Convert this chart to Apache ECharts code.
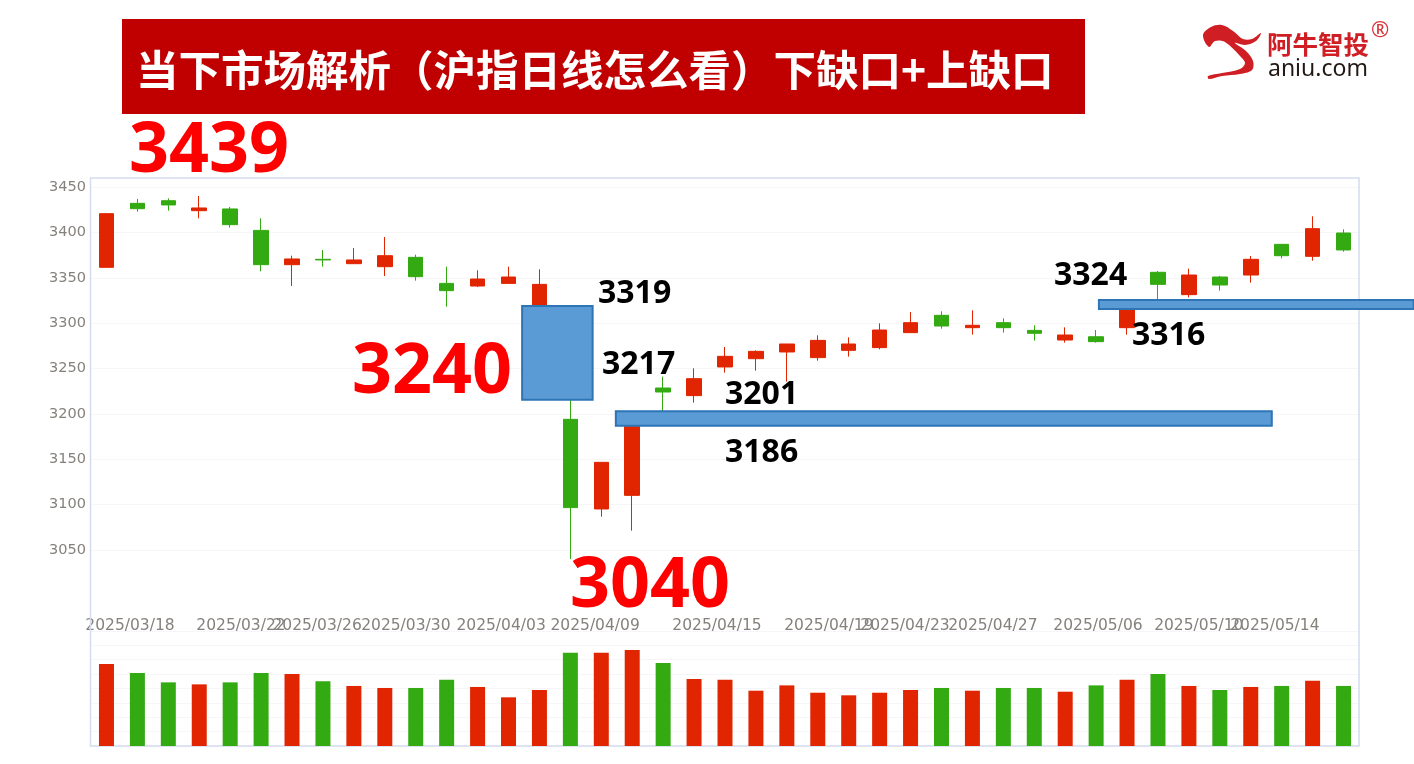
<!DOCTYPE html>
<html lang="zh-CN">

<head>
  <meta charset="UTF-8">
  <title>当下市场解析（沪指日线怎么看）</title>
  <script src="https://cdn.jsdelivr.net/npm/echarts@6/dist/echarts.min.js"></script>
  <style>
    * {
      margin: 0;
      padding: 0;
    }

    body {
      background-color: #fff;
    }

    #main {
      width: 1414px;
      height: 764px;
    }
  </style>
</head>

<body>
  <div id="main"></div>
  <script>
    // 交易日
    const dates = ['03/14', '03/17', '03/18', '03/19', '03/20', '03/21', '03/24', '03/25', '03/26', '03/27', '03/28',
      '03/31', '04/01', '04/02', '04/03', '04/07', '04/08', '04/09', '04/10', '04/11', '04/14', '04/15', '04/16', '04/17',
      '04/18', '04/21', '04/22', '04/23', '04/24', '04/25', '04/28', '04/29', '04/30', '05/06', '05/07', '05/08', '05/09',
      '05/12', '05/13', '05/14', '05/15'];

    // K线数据
    const opens = [3361.5, 3432, 3434.9, 3423.9, 3425.8, 3402.2, 3364.4, 3370.3, 3365.5, 3362.2, 3372.5,
      3343.8, 3340.9, 3343.8, 3319, 3194, 3095.2, 3110.2, 3228.5, 3220.1, 3251.7, 3260.8, 3268.2, 3262,
      3270, 3273, 3289.5, 3308.6, 3295, 3300.5, 3292, 3281.4, 3285, 3295, 3356, 3331.4, 3350.8,
      3353, 3386.8, 3373.6, 3399.3];
    const closes = [3420.6, 3426.1, 3430.2, 3426.9, 3408.5, 3364.4, 3370.7, 3369.6, 3369.6, 3374.3, 3351.2,
      3335.8, 3348.6, 3350.8, 3342.7, 3096.7, 3146.6, 3186, 3224.1, 3238.8, 3263.4, 3268.9, 3277, 3281,
      3277, 3292.4, 3300.5, 3296.8, 3297.6, 3295, 3288.8, 3286.9, 3279.6, 3316, 3342.7, 3353, 3342,
      3370.3, 3374.3, 3404.1, 3380.6];
    const lows = [3361.5, 3422.8, 3423.9, 3415.5, 3405.2, 3357.1, 3340.9, 3362.2, 3365.5, 3351.9, 3346.8,
      3318.1, 3339.8, 3343.8, 3319, 3040, 3086.7, 3071.3, 3201, 3212.4, 3245.4, 3247.6, 3235.5, 3258.6,
      3263.1, 3271.1, 3289.5, 3293.9, 3287.3, 3289.5, 3280.7, 3278.5, 3278.5, 3287.3, 3324, 3328.4, 3335.8,
      3344.6, 3371.4, 3368.8, 3378.7];
    const highs = [3421.3, 3436.8, 3437.5, 3440.1, 3428, 3415.5, 3374.3, 3380.6, 3382.8, 3394.9, 3375.4,
      3362.2, 3358.2, 3362.2, 3359.3, 3217, 3146.6, 3186, 3241, 3250.2, 3273.7, 3270, 3277, 3286.6,
      3284.3, 3299.8, 3312.3, 3313, 3314.1, 3305.3, 3297.6, 3295.4, 3292.4, 3316, 3357.4, 3360, 3351.9,
      3374, 3386.8, 3417.7, 3403.4];
    // 成交量（单位：格）
    const volumes = [5.69, 5.07, 4.42, 4.28, 4.42, 5.07, 5.0, 4.49, 4.17, 4.03, 4.03,
      4.6, 4.1, 3.38, 3.89, 6.48, 6.48, 6.67, 5.76, 4.65, 4.6, 3.84, 4.21, 3.7,
      3.52, 3.7, 3.89, 4.03, 3.84, 4.03, 4.03, 3.77, 4.21, 4.6, 5.0, 4.17,
      3.89, 4.1, 4.17, 4.53, 4.17];

    // 横轴日期标签及其所在位置（以K线格为单位）
    const tickLabels = ['2025/03/18', '2025/03/22', '2025/03/26', '2025/03/30', '2025/04/03', '2025/04/09', '2025/04/15',
      '2025/04/19', '2025/04/23', '2025/04/27', '2025/05/06', '2025/05/10', '2025/05/14'];
    const tickSlots = [1.26, 4.85, 7.31, 10.18, 13.26, 16.3, 20.24, 23.86, 26.32, 29.16, 32.56, 35.82, 38.28];

    // 缺口：起止位置（K线格）、上沿、下沿
    const gapStarts = [13.94, 16.97, 32.59];
    const gapEnds = [16.22, 38.18, 42.77];
    const gapTops = [3318.9, 3202.8, 3325.5];
    const gapBottoms = [3215.6, 3187, 3315.6];

    const chart = echarts.init(document.getElementById('main'), null, { renderer: 'canvas' });

    const UP = '#e12500';
    const DOWN = '#33aa11';
    const LABEL = '#85817d';

    function bigText(text, x, y) {
      return {
        type: 'text', x: x, y: y, z: 100,
        style: {
          text: text, fill: '#ff0000', font: 'bold 70px "Noto Sans"', textVerticalAlign: 'middle',
          shadowColor: 'rgba(0,0,0,0.35)', shadowBlur: 4, shadowOffsetX: 2, shadowOffsetY: 2
        }
      };
    }

    function smallText(text, x, y) {
      return {
        type: 'text', x: x, y: y, z: 100,
        style: {
          text: text, fill: '#000', font: 'bold 32px "Noto Sans"', textVerticalAlign: 'middle',
          shadowColor: 'rgba(0,0,0,0.3)', shadowBlur: 2, shadowOffsetX: 1, shadowOffsetY: 1
        }
      };
    }

    const option = {
      animation: false,
      backgroundColor: '#fff',
      grid: [
        { left: 91, width: 1268, top: 187, height: 363 },
        { left: 91, width: 1268, top: 630.8, height: 115.2 }
      ],
      xAxis: [
        { type: 'category', gridIndex: 0, data: dates, show: false },
        { type: 'category', gridIndex: 1, data: dates, show: false },
        // 缺口矩形用的连续坐标
        { type: 'value', gridIndex: 0, min: 0, max: 41, show: false },
        // 日期标签，末尾多一个空标签，免得05/10和05/14重叠时被隐藏
        {
          type: 'value', gridIndex: 1, min: 0, max: 41, position: 'top', offset: -3,
          axisLine: { show: false },
          axisTick: { show: false },
          splitLine: { show: false },
          axisLabel: {
            customValues: tickSlots.concat([41]),
            margin: 0,
            color: LABEL,
            fontFamily: 'DejaVu Sans',
            fontSize: 15.5,
            formatter: function (v) {
              return tickLabels[tickSlots.indexOf(v)] || '';
            }
          }
        }
      ],
      yAxis: [
        {
          type: 'value', gridIndex: 0, min: 3050, max: 3450, interval: 50,
          axisLine: { show: false },
          axisTick: { show: false },
          axisLabel: {
            color: LABEL,
            fontFamily: 'DejaVu Sans',
            fontSize: 14.5,
            margin: 5,
            formatter: function (v) {
              return String(v);
            }
          },
          splitLine: { lineStyle: { color: '#f6f6f6' } }
        },
        {
          type: 'value', gridIndex: 1, min: 0, max: 8, interval: 1,
          axisLine: { show: false },
          axisTick: { show: false },
          axisLabel: { show: false },
          splitLine: { lineStyle: { color: '#f6f6fa' } }
        }
      ],
      title: {
        text: '当下市场解析（沪指日线怎么看）下缺口+上缺口',
        left: 136,
        top: 49,
        padding: 0,
        textStyle: { color: '#fff', fontFamily: 'Noto Sans CJK SC', fontWeight: 'bold', fontSize: 42.5 }
      },
      series: [
        {
          type: 'candlestick',
          xAxisIndex: 0,
          yAxisIndex: 0,
          clip: false,
          barWidth: 15,
          itemStyle: { color: UP, color0: DOWN, borderColor: UP, borderColor0: DOWN, borderWidth: 1 },
          data: opens.map(function (o, i) {
            return [o, closes[i], lows[i], highs[i]];
          })
        },
        {
          type: 'bar',
          xAxisIndex: 1,
          yAxisIndex: 1,
          barWidth: 15,
          data: volumes.map(function (v, i) {
            return { value: v, itemStyle: { color: closes[i] >= opens[i] ? UP : DOWN } };
          })
        },
        {
          type: 'custom',
          xAxisIndex: 2,
          yAxisIndex: 0,
          z: 5,
          clip: false,
          data: gapStarts.map(function (s, i) {
            return [s, gapEnds[i], gapTops[i], gapBottoms[i]];
          }),
          renderItem: function (params, api) {
            const p0 = api.coord([api.value(0), api.value(2)]);
            const p1 = api.coord([api.value(1), api.value(3)]);
            return {
              type: 'rect',
              shape: { x: p0[0], y: p0[1], width: p1[0] - p0[0], height: p1[1] - p0[1] },
              style: { fill: '#5b9bd5', stroke: '#2e75b6', lineWidth: 2 }
            };
          }
        }
      ],
      graphic: [
        // 标题底色
        { type: 'rect', z: -1, shape: { x: 122, y: 19, width: 963, height: 95 }, style: { fill: '#c00000' } },
        // 图框
        { type: 'rect', z: 1, shape: { x: 90.5, y: 178, width: 1268.5, height: 568 }, style: { fill: 'none', stroke: '#d5dcf0', lineWidth: 1.5 } },
        // logo
        {
          type: 'polygon', z: 100,
          shape: {
            smooth: 0.35,
            points: [[1203, 35], [1211, 27], [1222, 25], [1233, 31], [1243, 39], [1252, 39], [1261, 33],
              [1256, 41], [1245, 45], [1235, 43], [1246, 51], [1253, 61], [1252, 70], [1240, 74], [1222, 76],
              [1209, 79], [1208, 76], [1222, 73], [1240, 69], [1245, 63], [1240, 56], [1225, 42], [1215, 41], [1209, 47]]
          },
          style: { fill: '#cf1f25' }
        },
        {
          type: 'text', z: 100, x: 1267, y: 44,
          style: { text: '阿牛智投', fill: '#cf1f25', font: 'bold 25.5px "Noto Sans CJK SC"', textVerticalAlign: 'middle' }
        },
        {
          type: 'text', z: 100, x: 1268, y: 69,
          style: { text: 'aniu.com', fill: '#231815', font: '23px "Noto Sans"', textVerticalAlign: 'middle' }
        },
        {
          type: 'text', z: 100, x: 1371, y: 31,
          style: { text: '®', fill: '#d9353b', font: '22px "Noto Sans"', textVerticalAlign: 'middle' }
        },
        // 图上标注
        bigText('3439', 129, 152),
        bigText('3240', 352, 373),
        bigText('3040', 570, 587),
        smallText('3319', 598, 294),
        smallText('3217', 602, 365),
        smallText('3201', 725, 395),
        smallText('3186', 725, 453),
        smallText('3324', 1054, 276),
        smallText('3316', 1132, 336)
      ]
    };

    chart.setOption(option);
  </script>
</body>

</html>
